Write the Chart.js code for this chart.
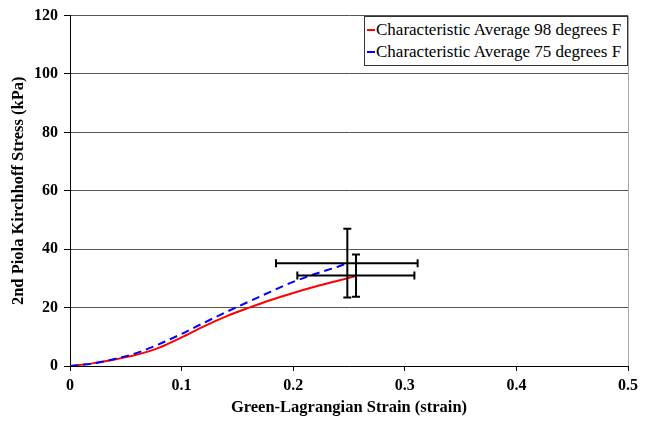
<!DOCTYPE html>
<html>
<head>
<meta charset="utf-8">
<script src="https://cdn.jsdelivr.net/npm/chart.js@4.4.1/dist/chart.umd.min.js"></script>
<style>
  html, body { margin: 0; padding: 0; background: #fff; }
  #wrap { position: relative; width: 652px; height: 421px; }
  #legend { position: absolute; left: 364px; top: 16px; width: 262px; height: 48px;
    border: 1px solid #333; background: #fff; font-family: 'Liberation Serif','Times New Roman',serif;
    font-size: 17px; color: #000; }
  .row { position: absolute; left: 2px; height: 20px; line-height: 20px; white-space: nowrap; }
  .sw { display: inline-block; width: 8px; height: 0; border-top: 2px solid; vertical-align: middle; margin-right: 1px; position: relative; top: -1px; }
</style>
</head>
<body>
<div id="wrap">
  <canvas id="c" width="652" height="421"></canvas>
  <div id="legend"></div>
</div>
<script>
const seriesNames = ['Characteristic Average 98 degrees F', 'Characteristic Average 75 degrees F'];
const seriesColors = ['#ff0000', '#0000ff'];

const strain98 = [0, 0.02, 0.04, 0.06, 0.08, 0.10, 0.12, 0.14, 0.16, 0.18, 0.20, 0.22, 0.24, 0.2565];
const stress98 = [0, 0.9, 2.2, 3.9, 6.3, 9.8, 13.6, 17.0, 19.9, 22.6, 25.0, 27.2, 29.2, 30.8];

const strain75 = [0, 0.02, 0.04, 0.06, 0.08, 0.10, 0.12, 0.14, 0.16, 0.18, 0.20, 0.22, 0.24, 0.2485];
const stress75 = [0, 0.8, 2.4, 4.5, 7.5, 11.0, 14.8, 18.5, 22.0, 25.5, 28.8, 31.6, 34.0, 35.2];

// error bars: [centerX, centerY, xLow, xHigh, yLow, yHigh]
const err75 = [0.2485, 35.2, 0.1846, 0.3115, 23.5, 47.0];
const err98 = [0.2563, 31.0, 0.2037, 0.3086, 23.7, 38.2];

const xTicks = [0, 0.1, 0.2, 0.3, 0.4, 0.5];
const yTicks = [0, 20, 40, 60, 80, 100, 120];

const FONT = "'Liberation Serif','Times New Roman',serif";

function pts(xs, ys) { return xs.map((x, i) => ({ x: x, y: ys[i] })); }

function errDatasets(e) {
  const base = { borderColor: '#000', borderWidth: 2, pointBorderColor: '#000', pointBorderWidth: 2,
    pointBackgroundColor: '#000', pointStyle: 'line', pointRadius: 4, pointHoverRadius: 4, isErr: true, order: 0 };
  return [
    Object.assign({}, base, { data: [{ x: e[2], y: e[1] }, { x: e[3], y: e[1] }], pointRotation: 90 }),
    Object.assign({}, base, { data: [{ x: e[0], y: e[4] }, { x: e[0], y: e[5] }], pointRotation: 0 })
  ];
}

const datasets = [
  { label: seriesNames[0], data: pts(strain98, stress98), borderColor: seriesColors[0], borderWidth: 2,
    pointRadius: 0, cubicInterpolationMode: 'monotone', order: 2 },
  { label: seriesNames[1], data: pts(strain75, stress75), borderColor: seriesColors[1], borderWidth: 2,
    borderDash: [8, 5], pointRadius: 0, cubicInterpolationMode: 'monotone', order: 1 },
  ...errDatasets(err75), ...errDatasets(err98)
];

const rightBorder = {
  id: 'rightBorder',
  beforeDatasetsDraw(chart) {
    const a = chart.chartArea, ctx = chart.ctx;
    ctx.save();
    ctx.strokeStyle = '#a8a8a8'; ctx.lineWidth = 1;
    ctx.beginPath(); ctx.moveTo(Math.round(a.right) + 0.5, a.top); ctx.lineTo(Math.round(a.right) + 0.5, a.bottom); ctx.stroke();
    ctx.restore();
  }
};

new Chart(document.getElementById('c'), {
  type: 'line',
  data: { datasets },
  plugins: [rightBorder],
  options: {
    responsive: false, animation: false, devicePixelRatio: 1,
    layout: { padding: { top: 12, right: 24, left: 9, bottom: 3 } },
    plugins: { legend: { display: false }, tooltip: { enabled: false } },
    scales: {
      x: {
        type: 'linear', min: 0, max: 0.5,
        afterBuildTicks(s) { s.ticks = xTicks.map(v => ({ value: v })); },
        afterFit(s) { s.height = 52; },
        ticks: { color: '#000', font: { family: FONT, size: 16, weight: 'bold' }, padding: 5,
          callback: v => String(v), maxRotation: 0 },
        grid: { drawOnChartArea: false, drawTicks: true, tickLength: 5, tickColor: '#000' },
        border: { color: '#000', width: 1 },
        title: { display: true, text: 'Green-Lagrangian Strain (strain)', color: '#000',
          font: { family: FONT, size: 16.5, weight: 'bold' }, padding: { top: 0, bottom: 0 } }
      },
      y: {
        type: 'linear', min: 0, max: 120,
        afterBuildTicks(s) { s.ticks = yTicks.map(v => ({ value: v })); },
        afterFit(s) { s.width = 61; },
        ticks: { color: '#000', font: { family: FONT, size: 16, weight: 'bold' }, padding: 6 },
        grid: { color: '#555', lineWidth: 1, tickLength: 6, tickColor: '#000' },
        border: { color: '#000', width: 1 },
        title: { display: true, text: '2nd Piola Kirchhoff Stress (kPa)', color: '#000',
          font: { family: FONT, size: 16.5, weight: 'bold' }, padding: { top: 0, bottom: 0 } }
      }
    }
  }
});

const lg = document.getElementById('legend');
seriesNames.forEach((n, i) => {
  const r = document.createElement('div');
  r.className = 'row';
  r.style.top = (3 + i * 22) + 'px';
  const sw = document.createElement('span');
  sw.className = 'sw';
  sw.style.borderTopColor = seriesColors[i];
  if (i === 1) sw.style.borderTopStyle = 'dashed';
  r.appendChild(sw);
  r.appendChild(document.createTextNode(n));
  lg.appendChild(r);
});
</script>
</body>
</html>
